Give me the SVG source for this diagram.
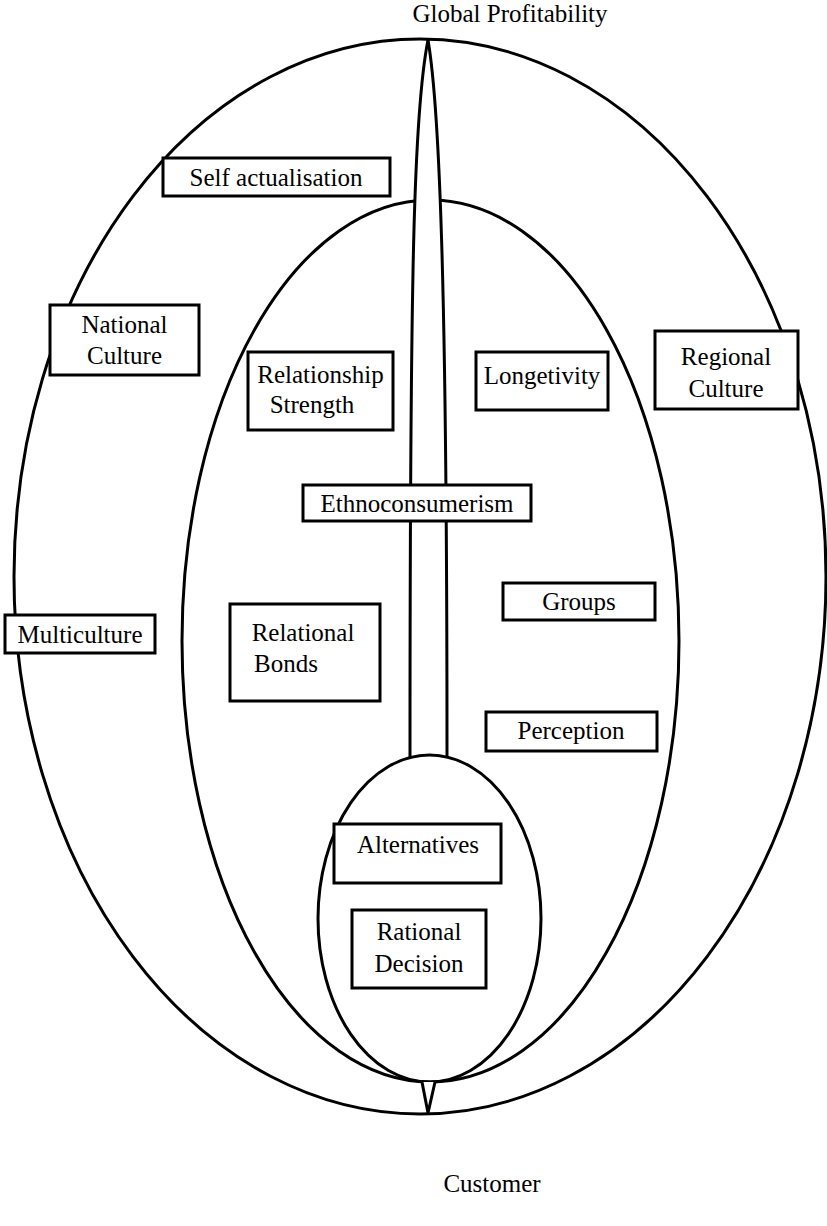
<svg xmlns="http://www.w3.org/2000/svg" width="827" height="1226" viewBox="0 0 827 1226">
<style>
.ln{fill:none;stroke:#000;stroke-width:3}
.bx{fill:#fff;stroke:#000;stroke-width:3}
text{font-family:"Liberation Serif","Times New Roman",serif;font-size:25px;fill:#000;text-anchor:middle}
</style>
<rect width="827" height="1226" fill="#fff"/>
<g id="connectors">
<ellipse id="outer" class="ln" cx="420" cy="576.5" rx="406" ry="537.5"/>
<ellipse id="middle" class="ln" cx="430.5" cy="641" rx="248.5" ry="441"/>
<path id="spindle-fill" d="M428,40 C414,110 410,260 410,757 L447,757 C447,300 440,110 428,40 Z" fill="#fff"/>
<path id="spindle-left" class="ln" d="M428,40 C414,110 410,260 410,757"/>
<path id="spindle-right" class="ln" d="M428,40 C440,110 447,300 447,757"/>
<ellipse id="inner" class="ln" cx="429.5" cy="918.5" rx="111.5" ry="163.5"/>
<path id="spike" class="bx" stroke-linejoin="round" d="M422,1082 L428,1113 L435,1082"/>
</g>
<g id="title"><text x="510" y="22">Global Profitability</text></g>
<g id="customer"><text x="492" y="1192">Customer</text></g>
<g id="self-actualisation"><rect class="bx" x="163" y="158" width="227" height="38"/><text x="276" y="186">Self actualisation</text></g>
<g id="national-culture"><rect class="bx" x="50" y="305" width="149" height="70"/><text x="124.5" y="333">National</text><text x="124.5" y="364">Culture</text></g>
<g id="relationship-strength"><rect class="bx" x="248" y="352" width="145" height="78"/><text x="320.5" y="383">Relationship</text><text x="312" y="413">Strength</text></g>
<g id="longetivity"><rect class="bx" x="476" y="352" width="132" height="58"/><text x="542" y="384">Longetivity</text></g>
<g id="regional-culture"><rect class="bx" x="655" y="331" width="143" height="78"/><text x="726" y="365">Regional</text><text x="726" y="397">Culture</text></g>
<g id="ethnoconsumerism"><rect class="bx" x="303" y="485" width="228" height="36"/><text x="417" y="512">Ethnoconsumerism</text></g>
<g id="groups"><rect class="bx" x="503" y="583" width="152" height="37"/><text x="579" y="610">Groups</text></g>
<g id="multiculture"><rect class="bx" x="5" y="615" width="150" height="38"/><text x="80" y="643">Multiculture</text></g>
<g id="relational-bonds"><rect class="bx" x="230" y="604" width="150" height="97"/><text x="303" y="641">Relational</text><text x="286" y="672">Bonds</text></g>
<g id="perception"><rect class="bx" x="486" y="712" width="171" height="39"/><text x="571" y="739">Perception</text></g>
<g id="alternatives"><rect class="bx" x="334" y="824" width="167" height="59"/><text x="418" y="853">Alternatives</text></g>
<g id="rational-decision"><rect class="bx" x="352" y="910" width="134" height="78"/><text x="419" y="940">Rational</text><text x="419" y="972">Decision</text></g>
</svg>
